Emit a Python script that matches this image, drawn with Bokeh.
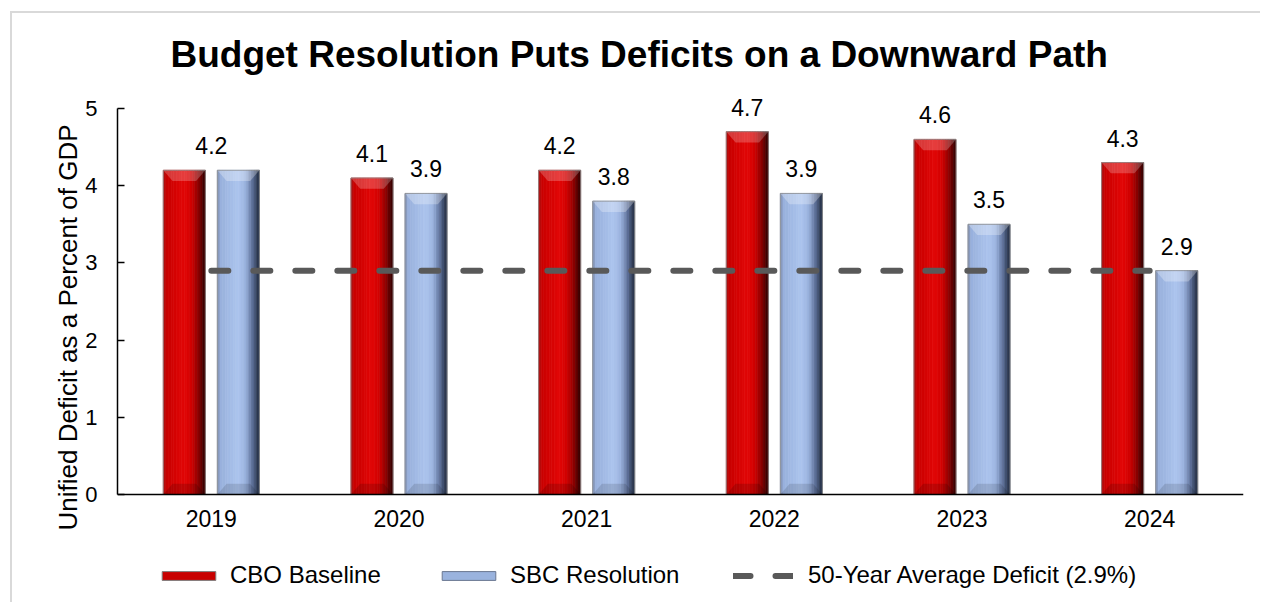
import numpy as np
from bokeh.plotting import figure
from bokeh.models import (ColumnDataSource, FixedTicker, Legend, LegendItem,
                          LabelSet, Range1d, Span, Title)
from bokeh.core.properties import value
from bokeh.embed import file_html
from bokeh.resources import INLINE

# ---- data -------------------------------------------------------------
years = ["2019", "2020", "2021", "2022", "2023", "2024"]
cbo_baseline = [4.2, 4.1, 4.2, 4.7, 4.6, 4.3]
sbc_resolution = [4.2, 3.9, 3.8, 3.9, 3.5, 2.9]
avg_deficit = 2.9
y_ticks = [0, 1, 2, 3, 4, 5]

# ---- styling ----------------------------------------------------------
FONT = "Liberation Sans"
BAR_W = 0.224          # bar width in category units
OFFSET = 0.144         # bar offset from category centre
BEVEL_H = 0.14         # bevel height (y units)
BEVEL_IN = 0.22        # bevel inset as share of bar width
STRIPS = 16
# the plot area runs on below zero so the category labels and the legend
# can sit inside it; the value axis itself is bounded to 0..5
Y_RANGE = (-1.425, 5.363)

RED_STOPS = [(0.0, (165, 20, 20)), (0.08, (200, 0, 0)), (0.5, (226, 6, 6)),
             (0.68, (208, 0, 0)), (0.84, (140, 0, 0)), (1.0, (45, 0, 0))]
BLUE_STOPS = [(0.0, (125, 140, 170)), (0.08, (152, 176, 220)), (0.5, (172, 196, 238)),
              (0.68, (154, 178, 222)), (0.84, (92, 112, 152)), (1.0, (32, 42, 62))]

idx = np.arange(len(years))


def shade(stops, t):
    for (t0, c0), (t1, c1) in zip(stops[:-1], stops[1:]):
        if t0 <= t <= t1:
            f = (t - t0) / (t1 - t0)
            c = [round(a + (b - a) * f) for a, b in zip(c0, c1)]
            return "#%02x%02x%02x" % tuple(c)
    return "#%02x%02x%02x" % stops[-1][1]


p = figure(width=1250, height=591, x_range=Range1d(-0.5, 5.5), y_range=Range1d(*Y_RANGE),
           output_backend="svg", toolbar_location=None,
           min_border_left=105, min_border_right=19, min_border_top=67,
           min_border_bottom=0)
p.styles = {"margin-left": "10px", "margin-top": "11px",
            "border-left": "2px solid #d9d9d9", "border-top": "2px solid #d9d9d9"}
p.xgrid.visible = False
p.ygrid.visible = False
p.outline_line_color = None
p.background_fill_color = "white"
p.border_fill_color = "white"
p.xaxis.visible = False


def shaded_bars(values, off, stops, top_glow, bottom_shade):
    xs, tops, cols = [], [], []
    for i, v in enumerate(values):
        left = i + off - BAR_W / 2
        for k in range(STRIPS):
            t = (k + 0.5) / STRIPS
            xs.append(left + t * BAR_W)
            tops.append(v)
            cols.append(shade(stops, t))
    p.vbar(x="x", top="top", bottom=0, width=BAR_W / STRIPS, fill_color="color",
           line_color="color", line_width=0.7,
           source=ColumnDataSource(dict(x=xs, top=tops, color=cols)))

    # bevel faces at the top and the bottom of each bar
    top_xs, top_ys, bot_xs, bot_ys = [], [], [], []
    for i, v in enumerate(values):
        L = i + off - BAR_W / 2
        R = i + off + BAR_W / 2
        ins = BEVEL_IN * BAR_W
        top_xs.append([L, R, R - ins, L + ins])
        top_ys.append([v, v, v - BEVEL_H, v - BEVEL_H])
        bot_xs.append([L + ins, R - ins, R, L])
        bot_ys.append([BEVEL_H, BEVEL_H, 0, 0])
    p.patches(top_xs, top_ys, fill_color="white", fill_alpha=top_glow, line_color=None)
    p.patches(bot_xs, bot_ys, fill_color="black", fill_alpha=bottom_shade, line_color=None)
    p.vbar(x=idx + off, top=values, bottom=0, width=BAR_W, fill_color=None,
           line_color="#8c8c8c", line_width=1, line_alpha=0.8)


shaded_bars(cbo_baseline, -OFFSET, RED_STOPS, 0.22, 0.15)
shaded_bars(sbc_resolution, OFFSET, BLUE_STOPS, 0.28, 0.12)

avg_line = p.line(x=idx, y=[avg_deficit] * len(years), line_color="#595959",
                  line_width=6, line_dash="17 25", line_cap="round")

# category axis: baseline rule plus year labels
p.add_layout(Span(location=0, dimension="width", line_color="black", line_width=1.5))
p.add_layout(LabelSet(x="x", y="y", text="t",
                      source=ColumnDataSource(dict(x=idx, y=[0] * len(years), t=years)),
                      text_align="center", text_baseline="top", y_offset=-16,
                      text_font=value(FONT), text_font_size=value("23px"),
                      text_color="black"))

# value labels; a single label when both series agree
lx, ly, lt = [], [], []
for i, (a, b) in enumerate(zip(cbo_baseline, sbc_resolution)):
    if a == b:
        lx.append(i); ly.append(a); lt.append(f"{a:.1f}")
    else:
        lx += [i - OFFSET, i + OFFSET]; ly += [a, b]; lt += [f"{a:.1f}", f"{b:.1f}"]
p.add_layout(LabelSet(x="x", y="y", text="t", source=ColumnDataSource(dict(x=lx, y=ly, t=lt)),
                      text_align="center", text_baseline="alphabetic", y_offset=16,
                      text_font=value(FONT), text_font_size=value("23px"),
                      text_color="black"))

# ---- value axis -------------------------------------------------------
p.yaxis.ticker = FixedTicker(ticks=y_ticks)
p.yaxis.bounds = (0, 5)
p.yaxis.major_tick_in = 7
p.yaxis.major_tick_out = 0
p.yaxis.major_tick_line_color = "black"
p.yaxis.major_tick_line_width = 1.5
p.yaxis.minor_tick_line_color = None
p.yaxis.major_label_standoff = 20
p.yaxis.axis_line_color = "black"
p.yaxis.axis_line_width = 1.5
p.yaxis.major_label_text_font = FONT
p.yaxis.major_label_text_color = "black"
p.yaxis.major_label_text_font_size = "22px"

# vertical axis title, set as a side title so it can sit a little low
p.add_layout(Title(text="Unified Deficit as a Percent of GDP", align="left", offset=74,
                   standoff=0, text_font=FONT, text_font_size="26px",
                   text_font_style="normal", text_color="black"), "left")

# ---- title ------------------------------------------------------------
p.title.text = "Budget Resolution Puts Deficits on a Downward Path"
p.title.text_font = FONT
p.title.text_font_size = "37px"
p.title.text_font_style = "bold"
p.title.text_color = "black"
p.title.align = "left"
p.title.offset = 53
p.title.standoff = 12

# ---- legend -----------------------------------------------------------
# key glyphs sit far outside both visible ranges; only their swatches show
red_key = p.vbar(x=[-50], top=[-50], bottom=[-51], width=0.1, fill_color="#c80000",
                 line_color="#7f7f7f", line_width=1)
blue_key = p.vbar(x=[-50], top=[-50], bottom=[-51], width=0.1, fill_color="#9ab3de",
                  line_color="#6a7790", line_width=1)


def add_legend(label, renderers, x, glyph_w, standoff):
    lg = Legend(items=[LegendItem(label=label, renderers=renderers)],
                location=(x, 15), orientation="horizontal",
                glyph_width=glyph_w, glyph_height=11, label_standoff=standoff,
                padding=0, margin=0, spacing=0,
                border_line_alpha=0, background_fill_alpha=0,
                label_text_font=FONT, label_text_font_size="24px",
                label_text_color="black", label_height=24)
    p.add_layout(lg, "center")


add_legend("CBO Baseline", [red_key], 38, 67, 8)
add_legend("SBC Resolution", [blue_key], 318, 67, 8)
add_legend("50-Year Average Deficit (2.9%)", [avg_line], 616, 60, 15)

open("out.html", "w").write(file_html(p, INLINE))
